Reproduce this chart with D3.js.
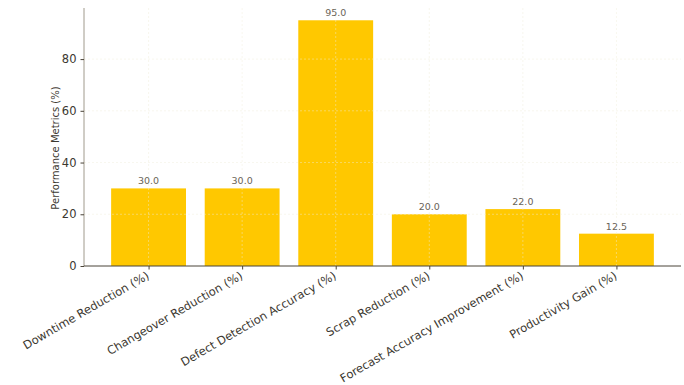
<!DOCTYPE html>
<html><head><meta charset="utf-8">
<script src="https://cdn.jsdelivr.net/npm/d3@7"></script>
<style>body{margin:0;background:#fff}svg{display:block}text{font-family:"DejaVu Sans",sans-serif}</style>
</head><body><svg id="c" width="684" height="385"></svg>
<script>
const categories = ["Downtime Reduction (%)","Changeover Reduction (%)","Defect Detection Accuracy (%)","Scrap Reduction (%)","Forecast Accuracy Improvement (%)","Productivity Gain (%)"];
const values = [30.0, 30.0, 95.0, 20.0, 22.0, 12.5];
const yTicks = [0, 20, 40, 60, 80];
const yLabel = "Performance Metrics (%)";

(function(){
const svg = d3.select("#c");
const pl = 84, pr = 681, pt = 8, pb = 266;
const x = d3.scaleLinear().domain([-0.69, categories.length - 1 + 0.69]).range([pl, pr]);
const y = d3.scaleLinear().domain([0, 99.75]).range([pb, pt]);
const bw = x(0.4) - x(-0.4);

svg.append("g").selectAll("rect").data(values).join("rect")
  .attr("x", (d,i) => x(i) - bw/2).attr("width", bw)
  .attr("y", d => y(d)).attr("height", d => pb - y(d))
  .attr("fill", "#ffc800");

const g = svg.append("g").attr("stroke", "#f0ecd8").attr("stroke-opacity", 0.55).attr("stroke-dasharray", "2,2").attr("stroke-width", 0.8);
g.selectAll("line.h").data(yTicks.slice(1)).join("line").attr("class","h")
  .attr("x1", pl).attr("x2", pr).attr("y1", d => y(d)).attr("y2", d => y(d));
g.selectAll("line.v").data(categories).join("line").attr("class","v")
  .attr("x1", (d,i) => x(i)).attr("x2", (d,i) => x(i)).attr("y1", pt).attr("y2", pb);

svg.append("g").selectAll("text").data(values).join("text")
  .attr("x", (d,i) => x(i)).attr("y", d => y(d) - 4)
  .attr("text-anchor", "middle").attr("font-size", 9.5).attr("fill", "#6a6458")
  .text(d => d.toFixed(1));

const yAxis = svg.append("g").attr("transform", `translate(${pl},0)`)
  .call(d3.axisLeft(y).tickValues(yTicks).tickSize(3.5).tickPadding(4).tickFormat(d3.format("d")));
yAxis.select(".domain").attr("stroke", "#a09a8c").attr("d", `M0,${pt}V${pb}`);
yAxis.selectAll(".tick line").attr("stroke", "#4a4438");
yAxis.selectAll(".tick text").attr("font-size", 11.5).attr("fill", "#3c3830").attr("font-family", "DejaVu Sans");

const xAxis = svg.append("g").attr("transform", `translate(0,${pb})`)
  .call(d3.axisBottom(x).tickValues(d3.range(categories.length)).tickSize(3.5).tickFormat(i => categories[i]));
xAxis.select(".domain").attr("stroke", "#4a4438").attr("d", `M${pl},0H${pr}`);
xAxis.selectAll(".tick line").attr("stroke", "#4a4438");
xAxis.selectAll(".tick text").attr("font-size", 11.5).attr("fill", "#3c3830").attr("font-family", "DejaVu Sans")
  .attr("text-anchor", "end").attr("dy", null).attr("y", 0)
  .attr("transform", "translate(1,12) rotate(-30)");

svg.append("text").attr("transform", `translate(59,${(pt+pb)/2+11}) rotate(-90)`)
  .attr("text-anchor", "middle").attr("font-size", 10).attr("fill", "#3c3830").text(yLabel);
})();
</script></body></html>
